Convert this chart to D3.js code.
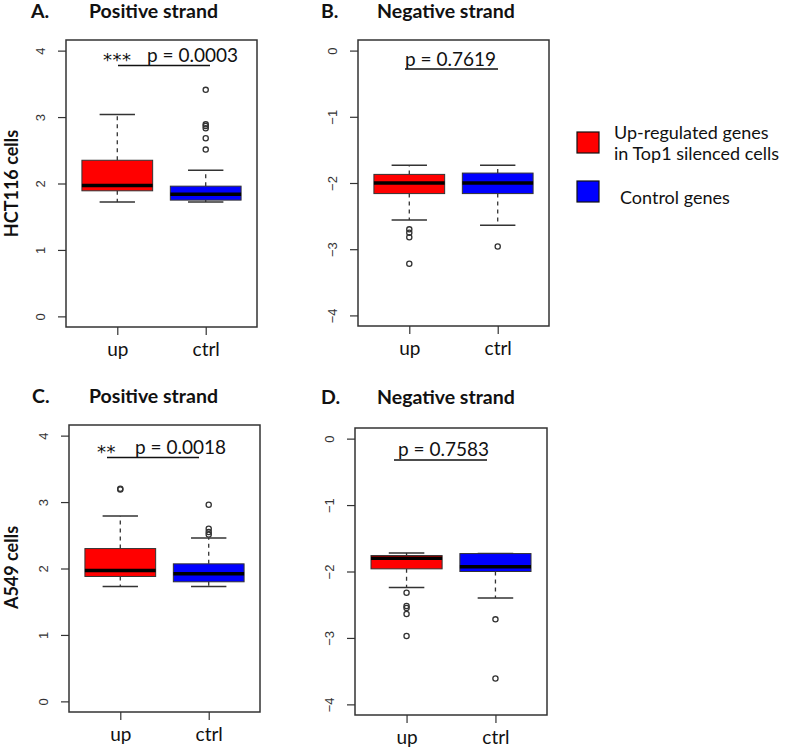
<!DOCTYPE html>
<html><head><meta charset="utf-8">
<script src="https://cdn.jsdelivr.net/npm/d3@7"></script>
<style>body{margin:0;background:#fff}svg{display:block}</style>
</head><body><div id="chart"></div>
<script>
// ---------- data ----------
const categories = ["up", "ctrl"];
const yTicksPos = [0, 1, 2, 3, 4];
const yTicksNeg = [0, -1, -2, -3, -4];
// box stats: [lowWhisker, Q1, median, Q3, highWhisker] per category
const statsA = [[1.72, 1.89, 1.97, 2.35, 3.04], [1.72, 1.75, 1.84, 1.96, 2.20]];
const outliersA = [[], [3.41, 2.89, 2.865, 2.83, 2.68, 2.51]];
const statsB = [[-2.56, -2.16, -2.00, -1.87, -1.73], [-2.64, -2.16, -2.00, -1.85, -1.73]];
const outliersB = [[-2.70, -2.75, -2.82, -3.22], [-2.96]];
const statsC = [[1.73, 1.88, 1.97, 2.30, 2.79], [1.73, 1.80, 1.92, 2.07, 2.46]];
const outliersC = [[3.19, 3.20], [2.96, 2.60, 2.55, 2.51]];
const statsD = [[-2.24, -1.96, -1.80, -1.76, -1.72], [-2.40, -2.00, -1.93, -1.73, -1.73]];
const outliersD = [[-2.32, -2.52, -2.55, -2.64, -2.97], [-2.72, -3.61]];
const legendLabels = [["Up-regulated genes", "in Top1 silenced cells"], ["Control genes"]];
const colors = ["#ff0000", "#0000ff"];

// ---------- layout ----------
const W = 797, H = 751;
const svg = d3.select("#chart").append("svg").attr("width", W).attr("height", H);
const TXT = "Lato, 'Open Sans', sans-serif";

const panels = [
  {letter:"A.", title:"Positive strand", lx:31, tx:89, ty:18, f:{l:66,r:257,t:40,b:327}, dom:[-0.16,4.16], ticks:yTicksPos,
   stats:statsA, outl:outliersA, stars:"***", sx:103, px:147, pText:"p = 0.0003", py:62, ly:65.5, lx1:118, lx2:210},
  {letter:"B.", title:"Negative strand", lx:321, tx:377, ty:18, f:{l:358,r:549,t:40,b:326}, dom:[-4.16,0.16], ticks:yTicksNeg,
   stats:statsB, outl:outliersB, stars:"", sx:0, px:405, pText:"p = 0.7619", py:65.5, ly:69, lx1:405, lx2:498},
  {letter:"C.", title:"Positive strand", lx:32, tx:89, ty:403, f:{l:69,r:260,t:425,b:712}, dom:[-0.16,4.16], ticks:yTicksPos,
   stats:statsC, outl:outliersC, stars:"**", sx:97, px:135, pText:"p = 0.0018", py:454, ly:457.5, lx1:107, lx2:199},
  {letter:"D.", title:"Negative strand", lx:321, tx:377, ty:404, f:{l:355,r:547,t:428,b:715}, dom:[-4.16,0.16], ticks:yTicksNeg,
   stats:statsD, outl:outliersD, stars:"", sx:0, px:398, pText:"p = 0.7583", py:456, ly:460, lx1:394, lx2:487}
];

panels.forEach(p => {
  const g = svg.append("g");
  const f = p.f;
  const y = d3.scaleLinear().domain(p.dom).range([f.b, f.t]);
  const x = d3.scaleLinear().domain([0.42, 2.58]).range([f.l, f.r]);
  const boxW = x(0.8) - x(0);
  const capW = boxW / 2;

  // titles
  g.append("text").attr("x", p.lx).attr("y", p.ty).text(p.letter)
    .attr("font-family", TXT).attr("font-weight", "bold").attr("font-size", 19.5).attr("fill", "#111");
  g.append("text").attr("x", p.tx).attr("y", p.ty).text(p.title)
    .attr("font-family", TXT).attr("font-weight", "bold").attr("font-size", 19.5).attr("fill", "#111");

  // y axis
  const yAxis = d3.axisLeft(y).tickValues(p.ticks).tickSize(8).tickPadding(0)
    .tickFormat(d => d < 0 ? "\u2212" + Math.abs(d) : String(d));
  const ax = g.append("g").attr("transform", `translate(${f.l},0)`).call(yAxis);
  ax.select(".domain").remove();
  ax.selectAll(".tick line").attr("stroke", "#333").attr("stroke-width", 1.2);
  ax.selectAll(".tick text")
    .attr("font-family", "'Liberation Sans', Arial, sans-serif").attr("font-size", 13).attr("fill", "#333")
    .attr("x", null).attr("dy", null)
    .attr("text-anchor", "middle")
    .attr("transform", "translate(-21,0) rotate(-90)");

  // x axis
  const xAxis = d3.axisBottom(x).tickValues([1, 2]).tickSize(8).tickFormat(d => categories[d - 1]).tickPadding(10);
  const bx = g.append("g").attr("transform", `translate(0,${f.b})`).call(xAxis);
  bx.select(".domain").remove();
  bx.selectAll(".tick line").attr("stroke", "#333").attr("stroke-width", 1.2);
  bx.selectAll(".tick text").attr("font-family", TXT).attr("font-size", 19).attr("fill", "#111")
    .attr("dy", null).attr("y", 29).attr("dominant-baseline", "auto");

  // boxes
  p.stats.forEach((s, i) => {
    const cx = x(i + 1);
    const [lo, q1, med, q3, hi] = s;
    g.append("line").attr("x1", cx).attr("x2", cx).attr("y1", y(q3)).attr("y2", y(hi))
      .attr("stroke", "#333").attr("stroke-width", 1.3).attr("stroke-dasharray", "4,4");
    g.append("line").attr("x1", cx).attr("x2", cx).attr("y1", y(q1)).attr("y2", y(lo))
      .attr("stroke", "#333").attr("stroke-width", 1.3).attr("stroke-dasharray", "4,4");
    [lo, hi].forEach(v => g.append("line").attr("x1", cx - capW / 2).attr("x2", cx + capW / 2)
      .attr("y1", y(v)).attr("y2", y(v)).attr("stroke", "#333").attr("stroke-width", 1.5));
    g.append("rect").attr("x", cx - boxW / 2).attr("width", boxW)
      .attr("y", y(q3)).attr("height", y(q1) - y(q3))
      .attr("fill", colors[i]).attr("stroke", "#333").attr("stroke-width", 1);
    g.append("line").attr("x1", cx - boxW / 2).attr("x2", cx + boxW / 2)
      .attr("y1", y(med)).attr("y2", y(med)).attr("stroke", "#000").attr("stroke-width", 3.5);
    p.outl[i].forEach(v => g.append("circle").attr("cx", cx).attr("cy", y(v)).attr("r", 2.6)
      .attr("fill", "none").attr("stroke", "#333").attr("stroke-width", 1.3));
  });

  // frame
  g.append("rect").attr("x", f.l).attr("y", f.t).attr("width", f.r - f.l).attr("height", f.b - f.t)
    .attr("fill", "none").attr("stroke", "#333").attr("stroke-width", 1.5);

  // annotation
  if (p.stars) g.append("text").attr("x", p.sx).attr("y", p.py + 4).text(p.stars)
    .attr("font-family", "'DejaVu Sans', sans-serif").attr("font-size", 18).attr("letter-spacing", 0.5).attr("fill", "#111");
  g.append("text").attr("x", p.px).attr("y", p.py).text(p.pText)
    .attr("font-family", TXT).attr("font-size", 19).attr("fill", "#111");
  g.append("line").attr("x1", p.lx1).attr("x2", p.lx2).attr("y1", p.ly).attr("y2", p.ly)
    .attr("stroke", "#111").attr("stroke-width", 1.5);
});

// row labels
[["HCT116 cells", 183.5], ["A549 cells", 567.5]].forEach(([t, cy]) => {
  svg.append("text").attr("transform", `translate(18,${cy}) rotate(-90)`).attr("text-anchor", "middle")
    .text(t).attr("font-family", TXT).attr("font-weight", "bold").attr("font-size", 18).attr("fill", "#111");
});

// legend
const leg = svg.append("g");
const legY = [132, 181];
legendLabels.forEach((lines, i) => {
  leg.append("rect").attr("x", 577).attr("y", legY[i]).attr("width", 22).attr("height", 21)
    .attr("fill", colors[i]).attr("stroke", "#111").attr("stroke-width", 1.2);
  lines.forEach((t, j) => {
    leg.append("text").attr("x", i === 0 ? 614 : 620).attr("y", i === 0 ? 139 + j * 20.5 : 204).text(t)
      .attr("font-family", TXT).attr("font-size", 18).attr("fill", "#111");
  });
});
</script></body></html>
